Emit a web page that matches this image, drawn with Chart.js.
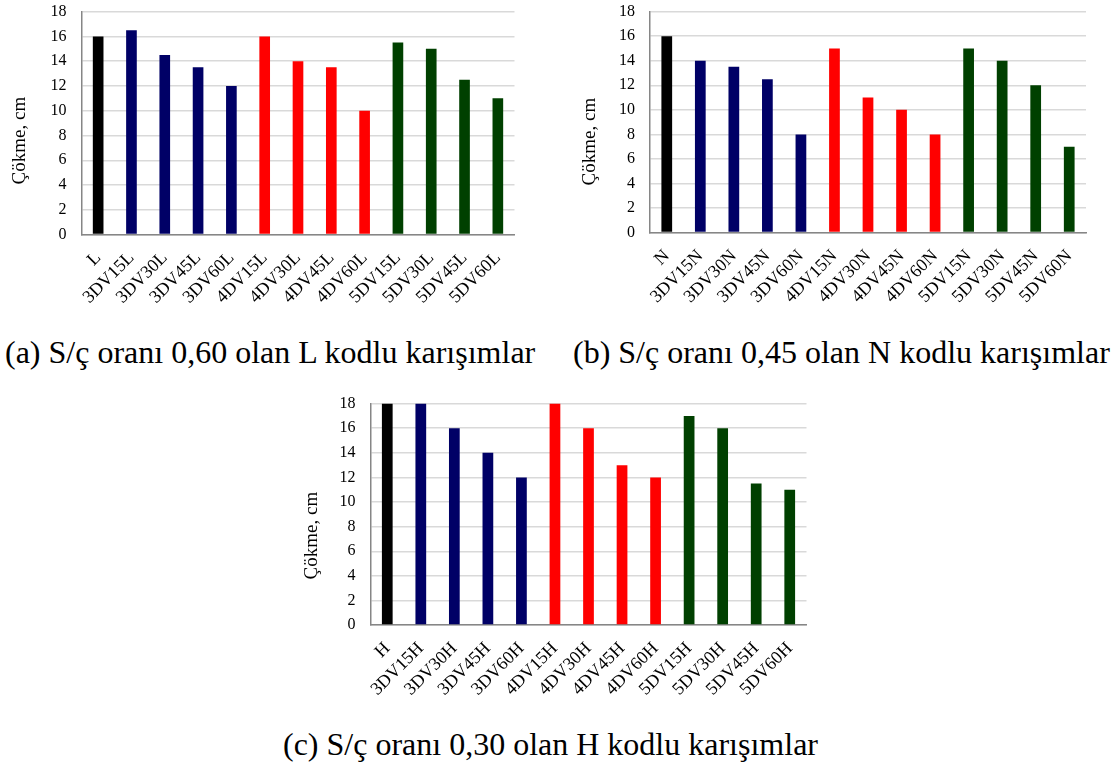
<!DOCTYPE html>
<html>
<head>
<meta charset="utf-8">
<script src="https://cdn.jsdelivr.net/npm/chart.js@4"></script>
<style>
  html, body { margin: 0; padding: 0; background: #fff; }
  body { width: 1119px; height: 765px; position: relative; overflow: hidden; font-family: "Liberation Serif", "Times New Roman", serif; }
  .box { position: absolute; }
  .cap { position: absolute; font-family: "Liberation Serif", "Times New Roman", serif; font-size: 32px; color: #000; white-space: nowrap; line-height: 1; }
</style>
</head>
<body>
<div class="box" id="boxA" style="left:0px;top:0px;"><canvas id="cA" width="530" height="335"></canvas></div>
<div class="box" id="boxB" style="left:560px;top:0px;"><canvas id="cB" width="545" height="335"></canvas></div>
<div class="box" id="boxC" style="left:290px;top:390px;"><canvas id="cC" width="530" height="345"></canvas></div>
<div class="cap" id="capA" style="left:5px;top:336px;">(a) S/ç oranı 0,60 olan L kodlu karışımlar</div>
<div class="cap" id="capB" style="left:573px;top:336px;">(b) S/ç oranı 0,45 olan N kodlu karışımlar</div>
<div class="cap" id="capC" style="left:283px;top:728px;">(c) S/ç oranı 0,30 olan H kodlu karışımlar</div>
<script>
// ---- data ----
const labelsL = ["L","3DV15L","3DV30L","3DV45L","3DV60L","4DV15L","4DV30L","4DV45L","4DV60L","5DV15L","5DV30L","5DV45L","5DV60L"];
const valuesL = [16, 16.5, 14.5, 13.5, 12, 16, 14, 13.5, 10, 15.5, 15, 12.5, 11];

const labelsN = ["N","3DV15N","3DV30N","3DV45N","3DV60N","4DV15N","4DV30N","4DV45N","4DV60N","5DV15N","5DV30N","5DV45N","5DV60N"];
const valuesN = [16, 14, 13.5, 12.5, 8, 15, 11, 10, 8, 15, 14, 12, 7];

const labelsH = ["H","3DV15H","3DV30H","3DV45H","3DV60H","4DV15H","4DV30H","4DV45H","4DV60H","5DV15H","5DV30H","5DV45H","5DV60H"];
const valuesH = [18, 18, 16, 14, 12, 18, 16, 13, 12, 17, 16, 11.5, 11];

const yTicks = [0, 2, 4, 6, 8, 10, 12, 14, 16, 18];
const yTitle = "Çökme, cm";

const barColors = ["#000000",
  "#000066","#000066","#000066","#000066",
  "#ff0000","#ff0000","#ff0000","#ff0000",
  "#004000","#004000","#004000","#004000"];

// ---- charts ----
const serif = "'Liberation Serif', 'Times New Roman', serif";

function makeChart(id, boxId, labels, values, geom) {
  // geom.area / geom.tx / geom.ty are relative to the box's nominal top-left
  const box = document.getElementById(boxId);
  geom.offset = 0;
  // draws the y-axis title at a chosen centre (text comes from yTitle)
  const yTitlePlugin = {
    id: 'yTitlePlugin',
    afterDraw(chart) {
      const ctx = chart.ctx;
      ctx.save();
      ctx.translate(geom.tx, geom.ty - geom.offset);
      ctx.rotate(-Math.PI / 2);
      ctx.font = "19px " + serif;
      ctx.fillStyle = '#000';
      ctx.textAlign = 'center';
      ctx.textBaseline = 'middle';
      ctx.fillText(yTitle, 0, 0);
      ctx.restore();
    }
  };
  let pad = { top: 0, right: 10, left: 0, bottom: 0 };
  const chart = new Chart(document.getElementById(id), {
    type: 'bar',
    data: {
      labels: labels,
      datasets: [{
        data: values,
        backgroundColor: barColors,
        borderWidth: 0,
        barPercentage: 0.32,
        categoryPercentage: 1.0
      }]
    },
    plugins: [yTitlePlugin],
    options: {
      responsive: false,
      animation: false,
      devicePixelRatio: 1,
      layout: { padding: pad },
      plugins: {
        legend: { display: false },
        tooltip: { enabled: false }
      },
      scales: {
        x: {
          grid: { display: false, drawTicks: false },
          border: { display: true, color: '#868686', width: 1.5 },
          ticks: {
            color: '#000',
            font: { family: serif, size: 18 },
            minRotation: 45, maxRotation: 45,
            padding: 13,
            autoSkip: false
          },
          afterFit: (s) => { s.height = geom.xh; }
        },
        y: {
          min: 0, max: 18,
          afterBuildTicks: (s) => { s.ticks = yTicks.map(v => ({ value: v })); },
          grid: { color: '#d9d9d9', lineWidth: 1.5, drawTicks: false },
          border: { display: true, color: '#868686', width: 1.5 },
          ticks: {
            color: '#000',
            font: { family: serif, size: 16 },
            padding: 15
          },
          afterFit: (s) => { s.width = geom.yw; }
        }
      }
    }
  });
  // place the plot area on the target rectangle: the box is shifted so the
  // plot top lands right, and the x-axis band is sized for the bottom
  const baseTop = parseFloat(box.style.top);
  for (let i = 0; i < 4; i++) {
    const a = chart.chartArea;
    geom.offset = geom.area.top - a.top;
    box.style.top = (baseTop + geom.offset) + 'px';
    pad = { top: 0, right: pad.right + (a.right - geom.area.right), left: 0, bottom: 0 };
    geom.yw += geom.area.left - a.left;
    geom.xh += a.bottom - (geom.area.bottom - geom.offset);
    chart.options.layout.padding = pad;
    chart.update();
  }
  return chart;
}

makeChart('cA', 'boxA', labelsL, valuesL, { xh: 75, yw: 80, tx: 20, ty: 141,
  area: { left: 81.5, right: 514.5, top: 12, bottom: 235 } });
makeChart('cB', 'boxB', labelsN, valuesN, { xh: 77, yw: 90, tx: 30, ty: 142,
  area: { left: 90, right: 526, top: 12, bottom: 233 } });
makeChart('cC', 'boxC', labelsH, valuesH, { xh: 84, yw: 80, tx: 22, ty: 146,
  area: { left: 80.5, right: 516.5, top: 14, bottom: 235.5 } });
</script>
</body>
</html>
